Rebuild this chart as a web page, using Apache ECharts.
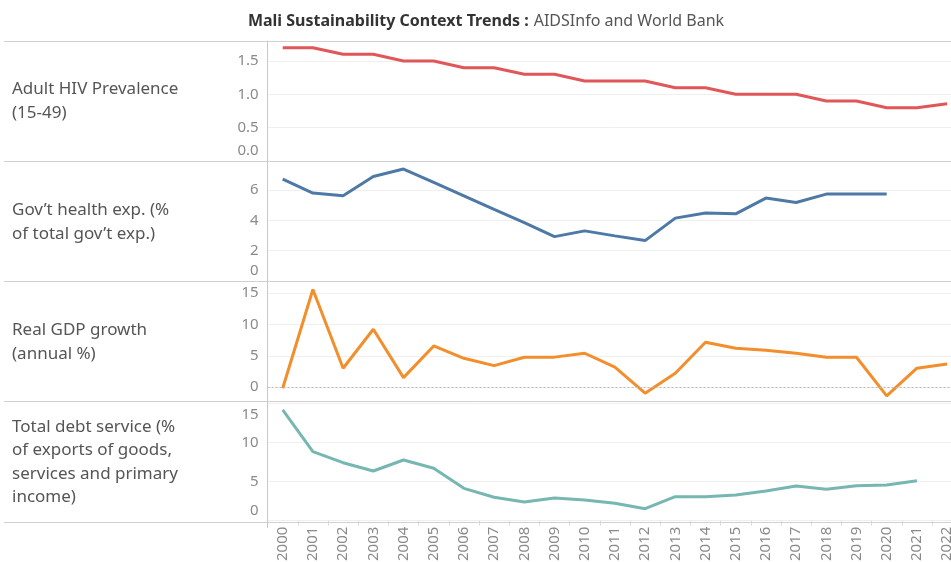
<!DOCTYPE html>
<html>
<head>
<meta charset="utf-8">
<script src="https://cdn.jsdelivr.net/npm/echarts@6/dist/echarts.min.js"></script>
<style>
  html, body { margin: 0; padding: 0; background: #fff; }
  #chart { width: 951px; height: 562px; }
</style>
</head>
<body>
<div id="chart"></div>
<script>
var years = ['2000','2001','2002','2003','2004','2005','2006','2007','2008','2009','2010',
    '2011','2012','2013','2014','2015','2016','2017','2018','2019','2020','2021','2022'];

var hivPrev = [1.7,1.7,1.6,1.6,1.5,1.5,1.4,1.4,1.3,1.3,1.2,1.2,1.2,1.1,1.1,1.0,1.0,1.0,0.9,0.9,0.8,0.8,0.86];
var govHealth = [6.71,5.79,5.61,6.88,7.37,6.49,5.61,4.72,3.84,2.92,3.3,2.97,2.66,4.14,4.47,4.42,5.46,5.17,5.72,5.72,5.72,null,null];
var gdpGrowth = [-0.16,15.6,3.03,9.25,1.53,6.59,4.62,3.45,4.78,4.8,5.42,3.19,-0.96,2.23,7.18,6.22,5.9,5.42,4.78,4.78,-1.39,3.03,3.72];
var debtService = [14.2,8.85,7.44,6.37,7.78,6.72,4.15,3.0,2.4,2.9,2.65,2.23,1.54,3.08,3.08,3.29,3.8,4.45,4.02,4.49,4.58,5.13,null];

var hivTicks = [0, 0.5, 1, 1.5];
var govTicks = [0, 2, 4, 6];
var gdpTicks = [0, 5, 10, 15];
var debtTicks = [0, 5, 10, 15];

var rowLabels = [
    'Adult HIV Prevalence\n(15-49)',
    'Gov\u2019t health exp. (%\nof total gov\u2019t exp.)',
    'Real GDP growth\n(annual %)',
    'Total debt service (%\nof exports of goods,\nservices and primary\nincome)'
];

var colors = ['#e15759', '#4e79a7', '#f28e2b', '#76b7b2'];
var font = '"Noto Sans", "Open Sans", sans-serif';
var tickColor = '#8a8a8a';
var sepColor = '#d0d0d0';

var chart = echarts.init(document.getElementById('chart'));

var gridLeft = 267.6;
var gridWidth = 694.6;
var tops = [41, 161, 281, 401];
var heights = [120, 120, 120, 119.7];

function labelRich() {
    return {
        up: { fontSize: 15, color: tickColor, fontFamily: font, padding: [0, 0, 20, 0] },
        down: { fontSize: 15, color: tickColor, fontFamily: font, padding: [22, 0, 0, 0] }
    };
}

function yAxisFor(idx, min, max, ticks, fmt) {
    return {
        type: 'value',
        gridIndex: idx,
        min: min,
        max: max,
        axisLine: { show: true, lineStyle: { color: '#c8c8c8', width: 1 } },
        axisTick: { show: false, customValues: ticks },
        splitLine: { show: true, lineStyle: { color: '#efefef', width: 1 } },
        axisLabel: {
            customValues: ticks,
            color: tickColor,
            fontSize: 15,
            fontFamily: font,
            margin: 9,
            rich: labelRich(),
            formatter: fmt
        }
    };
}

var grids = [];
var xAxes = [];
for (var i = 0; i < 4; i++) {
    grids.push({ left: gridLeft, top: tops[i], width: gridWidth, height: heights[i], outerBoundsMode: 'none' });
    xAxes.push({
        type: 'category',
        gridIndex: i,
        data: years,
        axisLine: { show: false },
        axisTick: i === 3 ? { show: true, length: 5, interval: 0, lineStyle: { color: '#dddddd' } } : { show: false },
        axisLabel: i === 3 ? {
            show: true, rotate: 90, interval: 0, color: tickColor,
            fontSize: 15, fontFamily: font, margin: 6
        } : { show: false },
        splitLine: { show: false }
    });
}

var yAxes = [
    yAxisFor(0, 0, 1.8, hivTicks, function (v) {
        return v === 0 ? '{up|0.0}' : v.toFixed(1);
    }),
    yAxisFor(1, 0, 7.9, govTicks, function (v) {
        return v === 0 ? '{up|0}' : String(v);
    }),
    yAxisFor(2, -2.2, 16.95, gdpTicks, function (v) {
        return String(v);
    }),
    yAxisFor(3, 0, 15.35, debtTicks, function (v) {
        if (v === 0) return '{up|0}';
        if (v === 15) return '{down|15}';
        return String(v);
    })
];

var seriesData = [hivPrev, govHealth, gdpGrowth, debtService];
var series = seriesData.map(function (d, i) {
    var s = {
        type: 'line',
        xAxisIndex: i,
        yAxisIndex: i,
        data: d,
        symbol: 'none',
        connectNulls: false,
        lineStyle: { color: colors[i], width: 3 },
        itemStyle: { color: colors[i] }
    };
    if (i === 2) {
        s.markLine = {
            silent: true,
            symbol: 'none',
            label: { show: false },
            lineStyle: { color: '#bbbbbb', type: [2, 2], width: 1 },
            data: [{ yAxis: 0 }]
        };
    }
    return s;
});

var graphics = [];
var seps = [41, 161, 281, 401, 522];
seps.forEach(function (y) {
    graphics.push({
        type: 'line', silent: true, z: 10,
        shape: { x1: 4, y1: y + 0.5, x2: 951, y2: y + 0.5 },
        style: { stroke: sepColor, lineWidth: 1 }
    });
});
graphics.push({
    type: 'line', silent: true, z: 10,
    shape: { x1: 267.5, y1: 41, x2: 267.5, y2: 528 },
    style: { stroke: '#c8c8c8', lineWidth: 1 }
});
var labelTops = [77, 198, 318, 415];
var labelLH = [24, 24, 24, 23.5];
rowLabels.forEach(function (t, i) {
    graphics.push({
        type: 'text', silent: true,
        left: 12, top: labelTops[i],
        style: {
            text: t, fill: '#555555', fontSize: 17, fontFamily: font,
            lineHeight: labelLH[i]
        }
    });
});

var option = {
    animation: false,
    backgroundColor: '#ffffff',
    title: {
        text: '{b|Mali Sustainability Context Trends :} {n|AIDSInfo and World Bank}',
        left: 481,
        textAlign: 'center',
        top: 7,
        textStyle: {
            rich: {
                b: { fontSize: 16, fontWeight: 'bold', color: '#333333', fontFamily: font },
                n: { fontSize: 16, fontWeight: 'normal', color: '#555555', fontFamily: font }
            }
        }
    },
    grid: grids,
    xAxis: xAxes,
    yAxis: yAxes,
    series: series,
    graphic: graphics
};

chart.setOption(option);
</script>
</body>
</html>
